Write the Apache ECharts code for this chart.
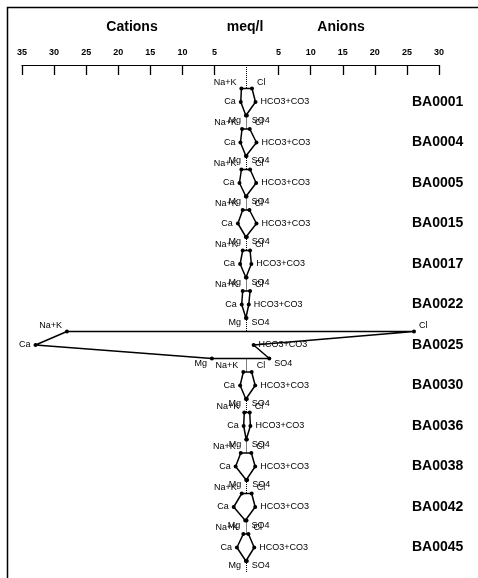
<!DOCTYPE html>
<html>
<head>
<meta charset="utf-8">
<script src="https://cdn.jsdelivr.net/npm/echarts@6/dist/echarts.min.js"></script>
<style>
  html, body { margin: 0; padding: 0; background: #fff; }
  #chart { width: 478px; height: 578px; }
</style>
</head>
<body>
<div id="chart"></div>
<script>
// ---- data (meq/l) ----
const samples = ['BA0001','BA0004','BA0005','BA0015','BA0017','BA0022','BA0025','BA0030','BA0036','BA0038','BA0042','BA0045'];
const naK  = [0.8, 0.7, 0.8, 0.6, 0.6, 0.6, 28.0, 0.5, 0.35, 0.9, 0.75, 0.5];
const ca   = [0.9, 0.95, 1.1, 1.35, 1.0, 0.75, 32.9, 1.0, 0.45, 1.7, 2.0, 1.5];
const mg   = [0.1, 0.1, 0.1, 0.1, 0.1, 0.1, 5.4, 0.1, 0.05, 0.05, 0.2, 0.1];
const cl   = [0.85, 0.5, 0.55, 0.45, 0.55, 0.55, 26.1, 0.8, 0.5, 0.75, 0.8, 0.3];
const hco3 = [1.4, 1.55, 1.5, 1.55, 0.75, 0.35, 1.1, 1.35, 0.6, 1.35, 1.35, 1.2];
const so4  = [0.05, 0.0, 0.0, 0.05, 0.0, 0.0, 3.55, 0.05, 0.05, 0.1, 0.0, 0.05];
const tickValues = [-35,-30,-25,-20,-15,-10,-5,5,10,15,20,25,30];
const ionNames = { naK: 'Na+K', ca: 'Ca', mg: 'Mg', cl: 'Cl', hco3: 'HCO3+CO3', so4: 'SO4' };

const FONT = '"Liberation Sans", Arial, sans-serif';
const third = 1 / 3;
const yMin = -0.9136, yMax = 11.605;

function lbl(text, pos, dy) {
  return { show: true, formatter: text, position: pos, distance: 3, offset: [0, dy],
           fontSize: 9, color: '#000', fontFamily: FONT };
}

const polySeries = samples.map((s, i) => ({
  type: 'line',
  name: s,
  symbol: 'circle',
  symbolSize: 4,
  showAllSymbol: true,
  animation: false,
  silent: true,
  lineStyle: { color: '#000', width: 1.5 },
  itemStyle: { color: '#000' },
  z: 3,
  data: [
    { value: [-naK[i], i - third], label: lbl(ionNames.naK, 'left', -6) },
    { value: [-ca[i], i],          label: lbl(ionNames.ca, 'left', 0) },
    { value: [-mg[i], i + third],  label: lbl(ionNames.mg, 'left', 5) },
    { value: [so4[i], i + third],  label: lbl(ionNames.so4, 'right', 5) },
    { value: [hco3[i], i],         label: lbl(ionNames.hco3, 'right', 0) },
    { value: [cl[i], i - third],   label: lbl(ionNames.cl, 'right', -6) },
    { value: [-naK[i], i - third], symbol: 'none', label: { show: false } }
  ]
}));

// dotted centre line between polygons
const centreSegs = [[{ coord: [0, yMin] }, { coord: [0, -third] }]];
for (let i = 0; i < samples.length - 1; i++) {
  centreSegs.push([{ coord: [0, i + third] }, { coord: [0, i + 1 - third] }]);
}
centreSegs.push([{ coord: [0, samples.length - 1 + third] }, { coord: [0, yMax] }]);

const option = {
  backgroundColor: '#fff',
  animation: false,
  grid: { left: 22, right: 39, top: 65, bottom: 6, containLabel: false },
  xAxis: {
    type: 'value',
    position: 'top',
    min: -35, max: 30, interval: 5,
    axisLine: { show: true, onZero: false, lineStyle: { color: '#000', width: 1.2 } },
    axisTick: { show: true, inside: true, length: 10, customValues: tickValues,
                lineStyle: { color: '#000', width: 1.3 } },
    axisLabel: { customValues: tickValues, formatter: v => String(Math.abs(v)),
                 fontSize: 9, fontWeight: 'bold', color: '#000', margin: 8, fontFamily: FONT },
    splitLine: { show: false }
  },
  yAxis: {
    type: 'value',
    inverse: true,
    position: 'right',
    min: yMin, max: yMax,
    axisLine: { show: false, onZero: false },
    axisTick: { show: false },
    splitLine: { show: false },
    axisLabel: {
      customValues: samples.map((s, i) => i),
      formatter: v => samples[Math.round(v)] || '',
      fontSize: 14, fontWeight: 'bold', color: '#000', fontFamily: FONT,
      margin: -27, align: 'left'
    }
  },
  graphic: [
    { type: 'polyline', silent: true, z: 10,
      shape: { points: [[7.5, 578], [7.5, 7.5], [478, 7.5]] },
      style: { stroke: '#000', lineWidth: 1.5, fill: null } },
    { type: 'text', x: 132, y: 27, silent: true,
      style: { text: 'Cations', font: 'bold 14px ' + FONT, fill: '#000', align: 'center', verticalAlign: 'middle' } },
    { type: 'text', x: 245, y: 27, silent: true,
      style: { text: 'meq/l', font: 'bold 14px ' + FONT, fill: '#000', align: 'center', verticalAlign: 'middle' } },
    { type: 'text', x: 341, y: 27, silent: true,
      style: { text: 'Anions', font: 'bold 14px ' + FONT, fill: '#000', align: 'center', verticalAlign: 'middle' } }
  ],
  series: polySeries.concat([{
    type: 'line',
    data: [],
    silent: true,
    markLine: {
      silent: true,
      symbol: 'none',
      animation: false,
      label: { show: false },
      lineStyle: { type: 'dotted', color: '#000', width: 1 },
      data: centreSegs
    }
  }])
};

const chart = echarts.init(document.getElementById('chart'), null, { renderer: 'canvas' });
chart.setOption(option);
</script>
</body>
</html>
